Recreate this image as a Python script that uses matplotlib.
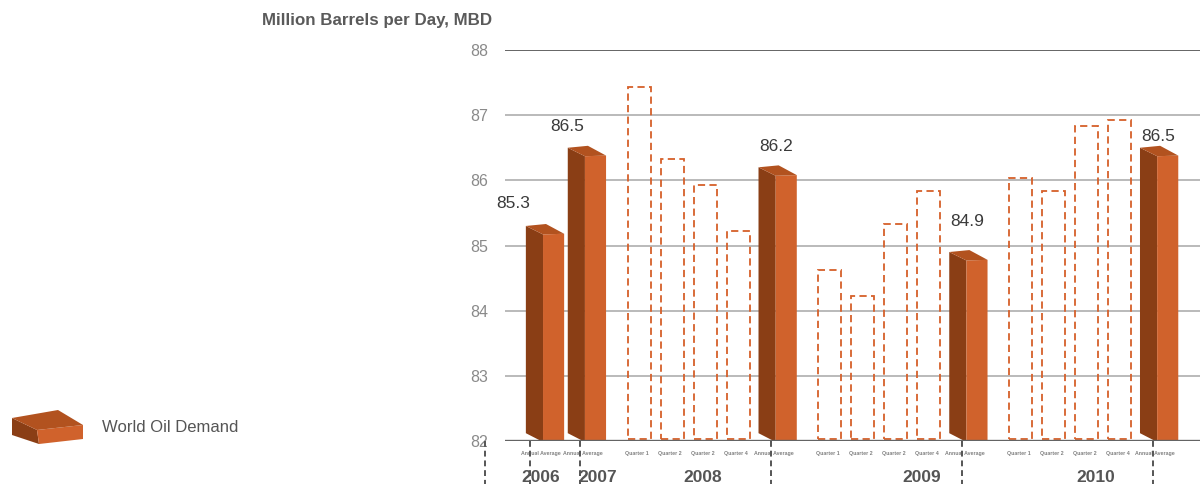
import numpy as np
import matplotlib
matplotlib.use("Agg")
import matplotlib.pyplot as plt
from matplotlib.patches import Polygon
from matplotlib.transforms import blended_transform_factory

plt.rcParams['font.family'] = ['Liberation Sans', 'DejaVu Sans']

# --- data -------
years = ['2006', '2007', '2008', '2009', '2010']
annual = [85.3, 86.5, 86.2, 84.9, 86.5]
quarter_names = ['Quarter 1', 'Quarter 2', 'Quarter 2', 'Quarter 4']
q2008 = [87.4, 86.3, 85.9, 85.2]
q2009 = [84.6, 84.2, 85.3, 85.8]
q2010 = [86.0, 85.8, 86.8, 86.9]
quarterly = [None, None, q2008, q2009, q2010]
series_name = 'World Oil Demand'
y_label = 'Million Barrels per Day, MBD'
y_ticks = [82, 83, 84, 85, 86, 87, 88]

# --- style -------
FRONT = '#D0622C'
SIDE = '#8A3E15'
TOP = '#B2521F'
DASH = '#D6602A'
GRID = '#B4B4B4'
AXIS = '#646464'
TEXT = '#555555'

# slot spacing (one quarter slot = 1 unit)
STEP_Q = 1.0
STEP_ANNUAL = 1.2      # Q4 -> annual
STEP_NEXT_Q = 1.58     # annual -> next year's Q1
STEP_NEXT_A = 1.27     # annual -> next annual

# label nudges (points) for the annual values, and x-nudges for year labels
value_dx = [-23, -14, -1, -1, -1]
value_dy = [16, 15, 15, 22, 8]
year_dx = [-0.12, 0.33, -0.1, 0.73, 0.24]

# --- positions -------
pos = 0.0
annual_x, q_x, q_vals, year_x = [], [], [], []
tick_x, tick_lab = [], []
prev_annual = None
for i, y in enumerate(years):
    group = []
    qs = quarterly[i]
    if qs is not None:
        pos = pos + STEP_NEXT_Q if prev_annual is not None else pos
        for j, v in enumerate(qs):
            if j > 0:
                pos += STEP_Q
            q_x.append(pos)
            q_vals.append(v)
            group.append(pos)
            tick_x.append(pos - 0.06)
            tick_lab.append(quarter_names[j])
        pos += STEP_ANNUAL
    elif prev_annual is not None:
        pos += STEP_NEXT_A
    annual_x.append(pos)
    group.append(pos)
    tick_x.append(pos - 0.12)
    tick_lab.append('Annual Average')
    year_x.append(np.mean(group) + year_dx[i])
    prev_annual = pos

# --- figure -------
W, H = 1200, 484
fig = plt.figure(figsize=(W / 100, H / 100), dpi=100)
ax = fig.add_axes([505 / W, 43 / H, 695 / W, 391 / H])
ax.set_xlim(-40 / 33, 655 / 33)
ax.set_ylim(82, 88)
for s in ax.spines.values():
    s.set_visible(False)

for t in y_ticks[1:-1]:
    ax.axhline(t, color=GRID, lw=1.3, zorder=0)
ax.axhline(88, color=AXIS, lw=1.4, zorder=0)
ax.axhline(82, color=AXIS, lw=2.4, zorder=5)

# quarterly values: dashed outlines
ax.bar(q_x, np.array(q_vals) - 82, bottom=82.03, width=0.7, fill=False,
       edgecolor=DASH, linewidth=1.3, linestyle=(0, (4, 2.4)), zorder=2)

# annual averages: 3D-looking bars
for x, v in zip(annual_x, annual):
    side = [(x - 0.58, v), (x - 0.06, v - 0.13), (x - 0.06, 81.985), (x - 0.58, 82.12)]
    front = [(x - 0.06, v - 0.13), (x + 0.58, v - 0.12), (x + 0.58, 81.985), (x - 0.06, 81.985)]
    top = [(x - 0.58, v), (x - 0.06, v - 0.13), (x + 0.58, v - 0.12), (x + 0.03, v + 0.03)]
    ax.add_patch(Polygon(side, closed=True, fc=SIDE, ec='none', zorder=3))
    ax.add_patch(Polygon(front, closed=True, fc=FRONT, ec='none', zorder=3))
    ax.add_patch(Polygon(top, closed=True, fc=TOP, ec='none', zorder=3))

for i, (x, v) in enumerate(zip(annual_x, annual)):
    ax.annotate(f'{v}', (x, v), xytext=(value_dx[i], value_dy[i]),
                textcoords='offset points', ha='center', va='center',
                fontsize=12.5, color='#3a3a3a', zorder=6)

# axis ticks
ax.set_yticks(y_ticks)
ax.set_yticklabels([str(t) for t in y_ticks], fontsize=11.5, color='#8a8a8a')
ax.tick_params(axis='y', length=0, pad=12)
ax.set_xticks(tick_x)
ax.set_xticklabels(tick_lab, fontsize=3.8, color='#808080', fontweight='bold')
ax.tick_params(axis='x', length=0, pad=7)

# year labels + group separators below the axis
trans = blended_transform_factory(ax.transData, ax.transAxes)
for x, y in zip(year_x, years):
    ax.text(x, -0.093, y, transform=trans, ha='center', va='center',
            fontsize=12.5, fontweight='bold', color=TEXT)
sep_x = [-60 / 33] + [x - 0.2 for x in annual_x]
sep_x[1] = annual_x[0] - 0.45
for x in sep_x:
    ax.plot([x, x], [0, -0.115], transform=trans, color='#555555', lw=1.4,
            linestyle=(0, (3, 2)), clip_on=False, zorder=6)

fig.text(492 / W, 1 - 20 / H, y_label, ha='right', va='center',
         fontsize=12.2, fontweight='bold', color='#5a5a5a')

# legend swatch drawn as a small box
def px(pts):
    return [(a / W, 1 - b / H) for a, b in pts]

fig.patches.append(Polygon(px([(12, 418), (37, 430), (39, 444), (12, 435)]),
                           closed=True, fc=SIDE, ec='none', transform=fig.transFigure))
fig.patches.append(Polygon(px([(37, 430), (83, 425), (83, 439), (39, 444)]),
                           closed=True, fc=FRONT, ec='none', transform=fig.transFigure))
fig.patches.append(Polygon(px([(12, 418), (58, 410), (83, 425), (37, 430)]),
                           closed=True, fc=TOP, ec='none', transform=fig.transFigure))
fig.text(102 / W, 1 - 428 / H, series_name, ha='left', va='center',
         fontsize=12, color=TEXT)

fig.savefig('out.png', dpi=100)
